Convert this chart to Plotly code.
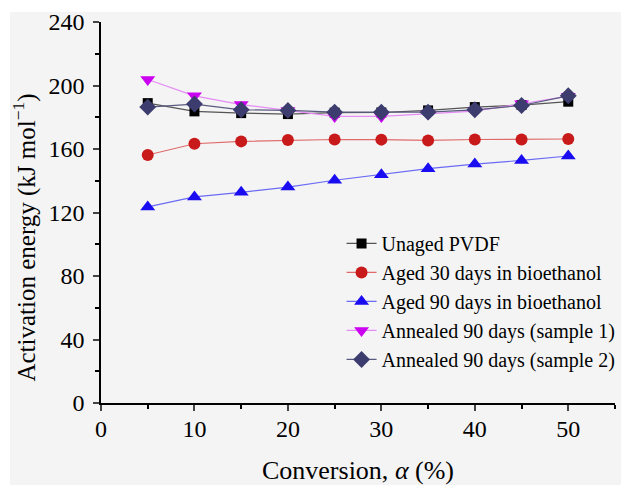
import plotly.graph_objects as go

conversion = [5, 10, 15, 20, 25, 30, 35, 40, 45, 50]
unaged = [188.9, 183.7, 182.6, 182.0, 182.9, 183.0, 184.3, 186.4, 187.7, 189.8]
aged30 = [156.2, 163.3, 164.8, 165.6, 166.0, 165.9, 165.4, 166.0, 166.0, 166.3]
aged90 = [123.5, 129.8, 132.7, 136.0, 140.3, 143.8, 147.6, 150.5, 152.8, 155.6]
annealed1 = [203.8, 193.5, 188.0, 184.3, 180.5, 180.5, 182.2, 183.9, 188.5, 193.3]
annealed2 = [186.4, 188.3, 184.7, 184.3, 183.2, 183.2, 183.2, 184.7, 187.4, 193.5]

names = ["Unaged PVDF", "Aged 30 days in bioethanol", "Aged 90 days in bioethanol",
         "Annealed 90 days (sample 1)", "Annealed 90 days (sample 2)"]
series = [unaged, aged30, aged90, annealed1, annealed2]
marker_colors = ["#000000", "#c81a1a", "#1a0cf0", "#cc00f0", "#3c3c6e"]
line_colors = ["#555555", "#e06a6a", "#6a6af5", "#e58cf5", "#5a5a80"]
symbols = ["square", "circle", "triangle-up", "triangle-down", "diamond"]
sizes = [10, 12, 13, 13, 13]

FONT = "Liberation Serif"
y_title = "Activation energy (kJ mol<sup>−1</sup>)"
x_title = "Conversion, <i>α</i> (%)"

fig = go.Figure()
for n, ys, mc, lc, sym, sz in zip(names, series, marker_colors, line_colors, symbols, sizes):
    fig.add_trace(go.Scatter(
        x=conversion, y=ys, name=n, mode="lines+markers",
        line=dict(color=lc, width=1.2),
        marker=dict(symbol=sym, size=sz, color=mc, line=dict(width=0)),
    ))

fig.update_layout(
    width=611, height=473,
    margin=dict(l=91, r=6, t=10, b=82, autoexpand=False),
    paper_bgcolor="#f4f4f4", plot_bgcolor="#f4f4f4",
    font=dict(family=FONT, color="#000000"),
    showlegend=True,
    legend=dict(
        x=0.468, y=0.47, xanchor="left", yanchor="top",
        bgcolor="rgba(0,0,0,0)", font=dict(family=FONT, size=20, color="#000000"),
        tracegroupgap=0,
    ),
    annotations=[dict(
        text=y_title, textangle=-90, xref="paper", yref="paper",
        x=-0.148, y=0.434, xanchor="center", yanchor="middle", showarrow=False,
        font=dict(family=FONT, size=25, color="#000000"),
    )],
)

fig.update_xaxes(
    range=[0, 55], tickvals=[0, 10, 20, 30, 40, 50], ticks="outside", ticklen=6, tickwidth=1.5,
    showline=True, linecolor="#000000", linewidth=1.5, showgrid=False, zeroline=False,
    tickfont=dict(family=FONT, size=24), ticklabelstandoff=-3, ticklabeloverflow="allow",
    minor=dict(tickvals=[5, 15, 25, 35, 45, 55], ticks="outside", ticklen=4, tickwidth=1.5, tickcolor="#000000"),
    title=dict(text=x_title, font=dict(family=FONT, size=26), standoff=20),
)
fig.update_yaxes(
    range=[0, 240], tickvals=[0, 40, 80, 120, 160, 200, 240], ticks="outside", ticklen=6, tickwidth=1.5,
    showline=True, linecolor="#000000", linewidth=1.5, showgrid=False, zeroline=False,
    tickfont=dict(family=FONT, size=24), ticklabelstandoff=4, ticklabeloverflow="allow",
    minor=dict(tickvals=[20, 60, 100, 140, 180, 220], ticks="outside", ticklen=4, tickwidth=1.5, tickcolor="#000000"),
)

fig.write_html("out.html", config={"displayModeBar": False},
               post_script="document.body.style.margin='12px 0 0 10px';document.body.style.background='#ffffff';")
